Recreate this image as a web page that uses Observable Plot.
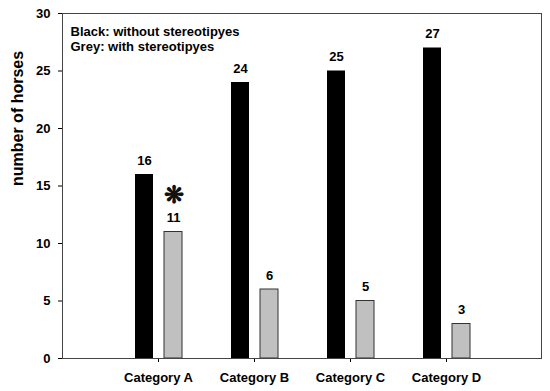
<!DOCTYPE html>
<html><head><meta charset="utf-8">
<script src="https://cdn.jsdelivr.net/npm/d3@7"></script>
<script src="https://cdn.jsdelivr.net/npm/@observablehq/plot@0.6"></script>
<style>
body{margin:0;background:#fff}
#chart svg{font-family:"Liberation Sans",Arial,sans-serif;font-weight:bold}
</style>
</head><body><div id="chart"></div>
<script>
const categories = ["Category A", "Category B", "Category C", "Category D"];
const withoutStereotypies = [16, 24, 25, 27];
const withStereotypies = [11, 6, 5, 3];
const yTicks = [0, 5, 10, 15, 20, 25, 30];
const legendLines = ["Black: without stereotipyes", "Grey: with stereotipyes"];
const yLabel = "number of horses";
const significance = [{category: "Category A", value: 11, symbol: "❋"}];

const black = categories.map((c, i) => ({category: c, value: withoutStereotypies[i]}));
const grey = categories.map((c, i) => ({category: c, value: withStereotypies[i]}));

const chart = Plot.plot({
  width: 550,
  height: 391,
  marginLeft: 62,
  marginRight: 9,
  marginTop: 13,
  marginBottom: 33,
  style: {fontFamily: "Liberation Sans, Arial, sans-serif", fontSize: "13px", fontWeight: "bold", color: "#000", background: "#fff"},
  x: {type: "band", domain: categories, range: [110, 494], padding: 0},
  y: {domain: [0, 30], ticks: yTicks},
  marks: [
    Plot.barY(black, {x: "category", y: "value", fill: "#000", insetLeft: 25, insetRight: 53}),
    Plot.barY(grey, {x: "category", y: "value", fill: "#c0c0c0", stroke: "#333", strokeWidth: 1, insetLeft: 54, insetRight: 24}),
    Plot.text(black, {x: "category", y: "value", text: d => String(d.value), dx: -14, dy: -14, fontSize: 13, fontWeight: "bold"}),
    Plot.text(grey, {x: "category", y: "value", text: d => String(d.value), dx: 15, dy: -14, fontSize: 13, fontWeight: "bold"}),
    Plot.text(significance, {x: "category", y: "value", text: "symbol", dx: 15, dy: -37, fontSize: 24, fill: "#111"}),
    Plot.text([legendLines.join("\n")], {frameAnchor: "top-left", dx: 8, dy: 11, lineAnchor: "top", textAnchor: "start", lineHeight: 1.2, fontSize: 13, fontWeight: "bold"}),
    Plot.text([yLabel], {frameAnchor: "left", dx: -45, rotate: -90, fontSize: 16, fontWeight: "bold"}),
    Plot.axisY({ticks: yTicks, tickSize: 4, tickPadding: 8, label: null, fontSize: 13, fontWeight: "bold"}),
    Plot.axisX({tickSize: 4, tickPadding: 10, label: null, fontSize: 13, fontWeight: "bold"}),
    Plot.frame({stroke: "#444"})
  ]
});
document.getElementById("chart").append(chart);
</script>
</body></html>
